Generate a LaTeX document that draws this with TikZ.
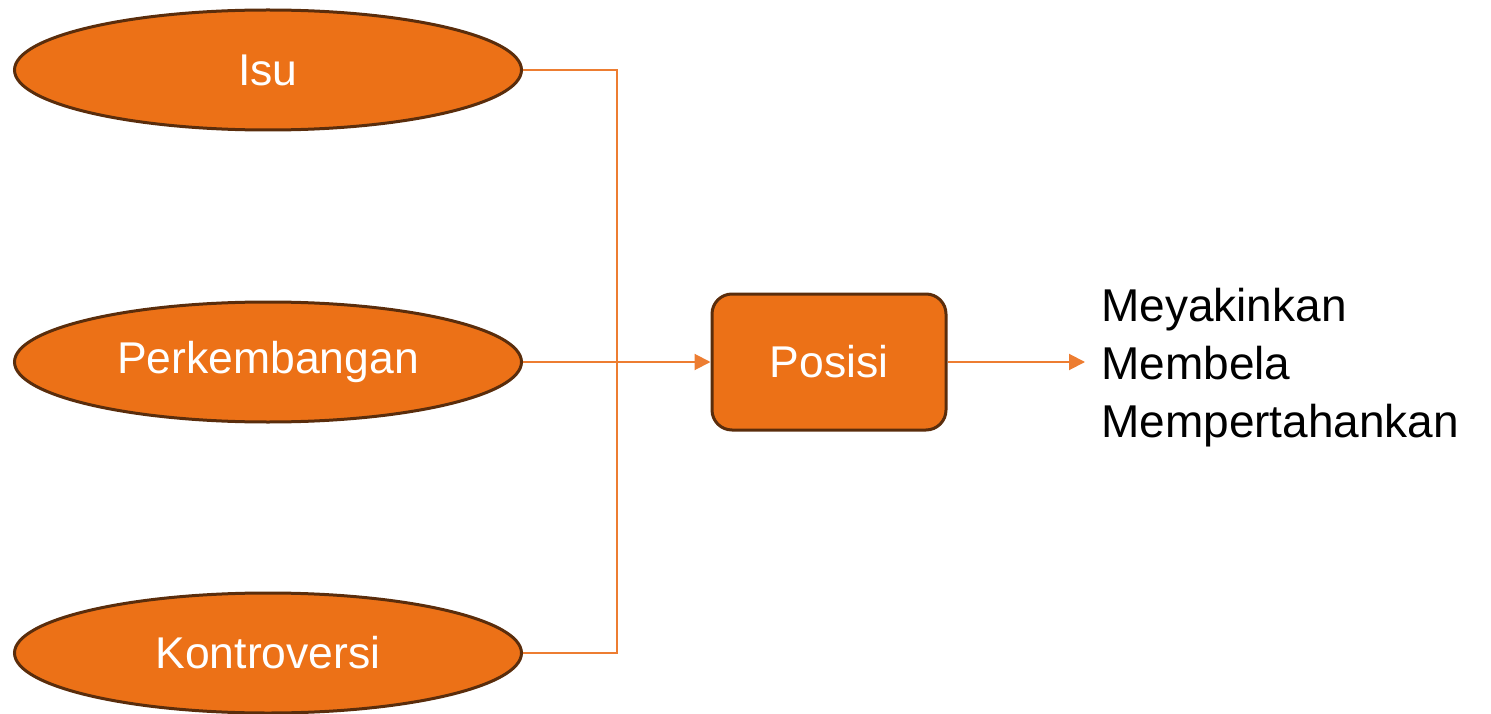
\documentclass[tikz,border=0pt]{standalone}
\usepackage{fontspec}
\setmainfont{Liberation Sans}
\usetikzlibrary{shapes.geometric,arrows.meta}
\definecolor{orfill}{HTML}{EC7117}
\definecolor{orline}{HTML}{ED7D31}
\definecolor{brownedge}{HTML}{5A2D0C}
\tikzset{
  ovalnode/.style={ellipse, fill=orfill, draw=brownedge, line width=3pt, minimum width=507pt, minimum height=120pt, inner sep=0pt, text=white, font=\fontsize{44.5}{50}\selectfont},
  boxnode/.style={rectangle, rounded corners=20pt, fill=orfill, draw=brownedge, line width=3pt, minimum width=234pt, minimum height=136pt, inner sep=0pt, text=white, font=\fontsize{44.5}{50}\selectfont},
  conn/.style={draw=orline, line width=2pt},
  arr/.style={conn, -{Triangle[length=16pt,width=16pt]}},
}
\begin{document}
\begin{tikzpicture}[x=1pt,y=-1pt]
\useasboundingbox (0,0) rectangle (1491,714);
\clip (0,0) rectangle (1491,714);
\node[ovalnode] (isu) at (268,70) {\raisebox{-3pt}{Isu}};
\node[ovalnode] (perk) at (268,362) {\raisebox{-3pt}{Perkembangan}};
\node[ovalnode] (kont) at (268,653) {\raisebox{-3pt}{Kontroversi}};
\node[boxnode] (pos) at (829,362) {\raisebox{-3pt}{Posisi}};
\coordinate (jt) at (617,70);
\coordinate (jb) at (617,653);
\coordinate (out) at (1085,362);
\node[anchor=west, align=left, inner sep=0pt, font=\fontsize{46}{58}\selectfont] (res) at (1101,368) {Meyakinkan\\Membela\\Mempertahankan};
\draw[conn] (isu.east) -- (jt) -- (jb) -- (kont.east);
\draw[arr] (perk.east) -- (pos.west);
\draw[arr] (pos.east) -- (out);
\end{tikzpicture}
\end{document}
